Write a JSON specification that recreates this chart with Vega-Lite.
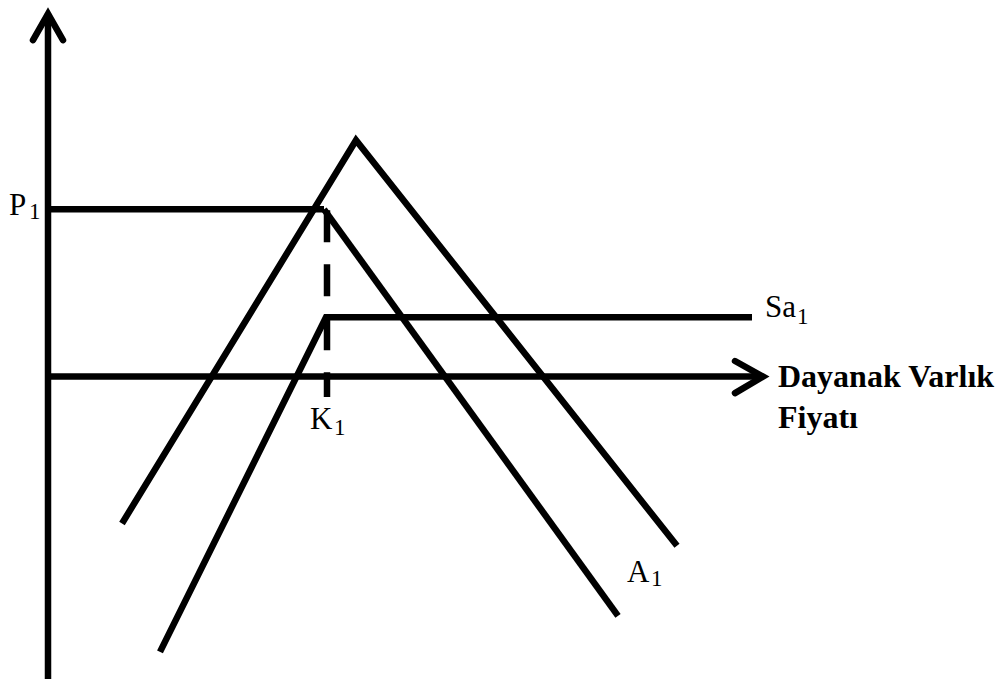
{
  "$schema": "https://vega.github.io/schema/vega-lite/v6.json",
  "width": 1008,
  "height": 692,
  "padding": 0,
  "autosize": {"type": "fit", "contains": "padding"},
  "background": "white",
  "config": {"view": {"stroke": null}},
  "datasets": {
    "solid": [
      {"series": "vaxis", "ord": 1, "x": 48, "y": 690},
      {"series": "vaxis", "ord": 2, "x": 48, "y": 6},
      {"series": "haxis", "ord": 1, "x": 48, "y": 379},
      {"series": "haxis", "ord": 2, "x": 761, "y": 379},
      {"series": "P1", "ord": 1, "x": 48, "y": 207},
      {"series": "P1", "ord": 2, "x": 324, "y": 207},
      {"series": "V", "ord": 1, "x": 122, "y": 530},
      {"series": "V", "ord": 2, "x": 356, "y": 136},
      {"series": "V", "ord": 3, "x": 677, "y": 553},
      {"series": "A1", "ord": 1, "x": 324, "y": 207},
      {"series": "A1", "ord": 2, "x": 618, "y": 625},
      {"series": "Sa1", "ord": 1, "x": 160, "y": 662},
      {"series": "Sa1", "ord": 2, "x": 326, "y": 318},
      {"series": "Sa1", "ord": 3, "x": 752, "y": 318}
    ],
    "arrows": [
      {"series": "up", "ord": 1, "x": 33, "y": 33},
      {"series": "up", "ord": 2, "x": 48, "y": 6},
      {"series": "up", "ord": 3, "x": 63, "y": 33},
      {"series": "right", "ord": 1, "x": 735, "y": 363},
      {"series": "right", "ord": 2, "x": 763, "y": 379},
      {"series": "right", "ord": 3, "x": 735, "y": 396}
    ],
    "dashed": [
      {"series": "K1", "ord": 1, "x": 327, "y": 208},
      {"series": "K1", "ord": 2, "x": 327, "y": 400}
    ],
    "labels": [
      {"label": "P", "x": 9, "y": 213},
      {"label": "Sa", "x": 765, "y": 318},
      {"label": "K", "x": 310, "y": 433},
      {"label": "A", "x": 627, "y": 590}
    ],
    "subs": [
      {"label": "1", "x": 29, "y": 217},
      {"label": "1", "x": 797, "y": 325},
      {"label": "1", "x": 334, "y": 439},
      {"label": "1", "x": 651, "y": 594}
    ],
    "bold": [
      {"label": "Dayanak Varlık", "x": 778, "y": 390},
      {"label": "Fiyatı", "x": 778, "y": 432}
    ]
  },
  "encoding": {
    "x": {"field": "x", "type": "quantitative", "axis": null, "scale": {"domain": [0, 1008], "nice": false, "zero": false}},
    "y": {"field": "y", "type": "quantitative", "axis": null, "scale": {"domain": [0, 692], "nice": false, "zero": false, "reverse": true}}
  },
  "layer": [
    {
      "data": {"name": "solid"},
      "mark": {"type": "line", "color": "black", "strokeWidth": 6.5, "strokeCap": "butt", "strokeJoin": "miter"},
      "encoding": {"detail": {"field": "series"}, "order": {"field": "ord"}}
    },
    {
      "data": {"name": "arrows"},
      "mark": {"type": "line", "color": "black", "strokeWidth": 6.5, "strokeCap": "round", "strokeJoin": "miter"},
      "encoding": {"detail": {"field": "series"}, "order": {"field": "ord"}}
    },
    {
      "data": {"name": "dashed"},
      "mark": {"type": "line", "color": "black", "strokeWidth": 6.5, "strokeCap": "butt", "strokeDash": [32, 22]},
      "encoding": {"detail": {"field": "series"}, "order": {"field": "ord"}}
    },
    {
      "data": {"name": "labels"},
      "mark": {"type": "text", "font": "Liberation Serif", "fontSize": 31, "align": "left", "baseline": "alphabetic", "color": "black"},
      "encoding": {"text": {"field": "label"}}
    },
    {
      "data": {"name": "subs"},
      "mark": {"type": "text", "font": "Liberation Serif", "fontSize": 23, "align": "left", "baseline": "alphabetic", "color": "black"},
      "encoding": {"text": {"field": "label"}}
    },
    {
      "data": {"name": "bold"},
      "mark": {"type": "text", "font": "Liberation Serif", "fontSize": 32, "fontWeight": "bold", "align": "left", "baseline": "alphabetic", "color": "black"},
      "encoding": {"text": {"field": "label"}}
    }
  ]
}
